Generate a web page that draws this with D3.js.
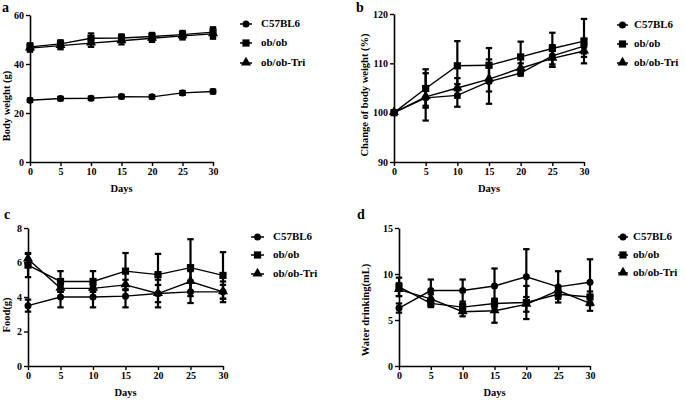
<!DOCTYPE html>
<html>
<head>
<meta charset="utf-8">
<script src="https://cdn.jsdelivr.net/npm/d3@7"></script>
<style>
  body { margin: 0; background: #fff; }
  svg { display: block; }
  text { font-family: "Liberation Serif", "DejaVu Serif", serif; font-weight: bold; fill: #000; }
</style>
</head>
<body>
<div id="chart"></div>
<script>
// ---- data ----
const days = [0, 5, 10, 15, 20, 25, 30];
const groups = ['C57BL6', 'ob/ob', 'ob/ob-Tri'];
const symbols = ['circle', 'square', 'triangle'];

// a: body weight (g)
const weightMean = [
  [25.2, 25.9, 26.0, 26.7, 26.6, 28.2, 28.8],
  [47.0, 48.2, 50.5, 50.6, 51.2, 52.0, 53.0],
  [46.5, 47.5, 48.5, 49.5, 50.5, 51.5, 52.3]
];
const weightSd = [
  [0.7, 0.7, 0.7, 0.7, 0.7, 0.8, 0.8],
  [1.5, 1.5, 2.0, 1.5, 1.5, 1.5, 2.0],
  [1.5, 1.5, 1.5, 1.5, 1.5, 1.5, 2.0]
];
// b: change of body weight (%)
const changeMean = [
  [100, 103.0, 103.5, 106.3, 108.0, 111.5, 113.5],
  [100, 104.9, 109.5, 109.6, 111.3, 113.0, 114.5],
  [100, 103.2, 105.0, 106.8, 109.0, 111.0, 112.5]
];
const changeSd = [
  [0, 1.6, 2.3, 4.5, 0.5, 2.2, 1.5],
  [0, 3.9, 5.0, 3.5, 3.1, 3.2, 4.5],
  [0, 4.8, 2.0, 2.5, 1.0, 1.7, 1.2]
];
// c: food (g)
const foodMean = [
  [3.5, 4.0, 4.0, 4.05, 4.2, 4.3, 4.3],
  [5.85, 4.9, 4.9, 5.5, 5.3, 5.7, 5.25],
  [6.2, 4.5, 4.5, 4.7, 4.2, 4.9, 4.3]
];
const foodSd = [
  [0.35, 0.6, 0.6, 0.65, 0.8, 0.65, 0.6],
  [0.7, 0.6, 0.6, 1.05, 1.2, 1.65, 1.35],
  [0.3, 0.2, 0.2, 0.3, 0.5, 0.6, 0.4]
];
// d: water drinking (mL)
const waterMean = [
  [6.3, 8.2, 8.2, 8.7, 9.7, 8.6, 9.1],
  [8.6, 6.8, 6.4, 6.8, 6.9, 7.8, 7.5],
  [8.3, 7.3, 5.9, 6.0, 6.7, 8.2, 6.8]
];
const waterSd = [
  [0.5, 1.2, 1.2, 1.9, 3.0, 1.7, 2.5],
  [1.0, 0.4, 0.4, 0.5, 1.8, 0.5, 0.6],
  [0.7, 0.5, 0.5, 1.3, 0.8, 0.5, 0.8]
];

const panels = [
  { letter: 'a', title: 'Body weight (g)', mean: weightMean, sd: weightSd,
    domain: [0, 60], ticks: [0, 20, 40, 60],
    x0: 30, x1: 213, yTop: 15, yBot: 162, titleX: 8, titleY: 106,
    letterPos: [2, 12], legend: { m0: 240, m1: 252, tx: 261, rows: [24, 43, 63] } },
  { letter: 'b', title: 'Change of body weight (%)', mean: changeMean, sd: changeSd,
    domain: [90, 120], ticks: [90, 100, 110, 120],
    x0: 394, x1: 584, yTop: 14, yBot: 162, titleX: 366, titleY: 95,
    letterPos: [356, 12], legend: { m0: 617, m1: 628, tx: 634, rows: [25, 44, 63] } },
  { letter: 'c', title: 'Food(g)', mean: foodMean, sd: foodSd,
    domain: [0, 8], ticks: [0, 2, 4, 6, 8],
    x0: 28, x1: 223, yTop: 228, yBot: 366, titleX: 8, titleY: 315,
    letterPos: [4, 219], legend: { m0: 251, m1: 264, tx: 273, rows: [237, 255, 274] } },
  { letter: 'd', title: 'Water drinking(mL)', mean: waterMean, sd: waterSd,
    domain: [0, 15], ticks: [0, 5, 10, 15],
    x0: 399, x1: 590, yTop: 228, yBot: 366, titleX: 367, titleY: 310,
    letterPos: [357, 219], legend: { m0: 618, m1: 628, tx: 633, rows: [237, 255, 273] } }
];

const svg = d3.select('#chart').append('svg')
  .attr('width', 685)
  .attr('height', 404);

function marker(sel, type, x, y) {
  if (type === 'circle') {
    sel.append('circle').attr('cx', x).attr('cy', y).attr('r', 3.5).attr('fill', '#000');
  } else if (type === 'square') {
    sel.append('rect').attr('x', x - 3.6).attr('y', y - 3.6)
      .attr('width', 7.2).attr('height', 7.2).attr('fill', '#000');
  } else {
    sel.append('path')
      .attr('d', d3.symbol().type(d3.symbolTriangle).size(44)())
      .attr('transform', `translate(${x},${y - 0.5})`)
      .attr('fill', '#000');
  }
}

panels.forEach(p => {
  const g = svg.append('g');
  const x = d3.scaleLinear().domain([0, 30]).range([p.x0, p.x1]);
  const y = d3.scaleLinear().domain(p.domain).range([p.yBot, p.yTop]);

  // axes
  const yAxis = g.append('g')
    .attr('transform', `translate(${p.x0},0)`)
    .call(d3.axisLeft(y).tickValues(p.ticks).tickSize(4).tickPadding(2).tickSizeOuter(0));
  const xAxis = g.append('g')
    .attr('transform', `translate(0,${p.yBot})`)
    .call(d3.axisBottom(x).tickValues(days).tickSize(4).tickPadding(2).tickSizeOuter(0));
  [yAxis, xAxis].forEach(ax => {
    ax.attr('font-family', null);
    ax.select('.domain').attr('stroke-width', 1.6).attr('stroke', '#000');
    ax.selectAll('.tick line').attr('stroke-width', 1.4).attr('stroke', '#000');
    ax.selectAll('.tick text')
      .attr('font-size', 10)
      .attr('fill', '#000');
  });

  // titles
  g.append('text')
    .attr('transform', `translate(${p.titleX},${p.titleY}) rotate(-90)`)
    .attr('text-anchor', 'middle')
    .attr('dominant-baseline', 'middle')
    .attr('font-size', 10.5)
    .text(p.title);
  g.append('text')
    .attr('x', (p.x0 + p.x1) / 2)
    .attr('y', p.yBot + 30)
    .attr('text-anchor', 'middle')
    .attr('font-size', 10.5)
    .text('Days');
  g.append('text')
    .attr('x', p.letterPos[0])
    .attr('y', p.letterPos[1])
    .attr('font-size', 14)
    .text(p.letter);

  const line = d3.line().x((d, i) => x(days[i])).y(d => y(d));

  p.mean.forEach((series, s) => {
    const sds = p.sd[s];
    // error bars
    series.forEach((v, i) => {
      if (!sds[i]) return;
      const cx = x(days[i]);
      const lo = y(v - sds[i]);
      const hi = y(v + sds[i]);
      g.append('line').attr('x1', cx).attr('x2', cx).attr('y1', lo).attr('y2', hi)
        .attr('stroke', '#000').attr('stroke-width', 2.2);
      [lo, hi].forEach(yy => {
        g.append('line').attr('x1', cx - 3.2).attr('x2', cx + 3.2).attr('y1', yy).attr('y2', yy)
          .attr('stroke', '#000').attr('stroke-width', 2.2);
      });
    });
    g.append('path')
      .datum(series)
      .attr('d', line)
      .attr('fill', 'none')
      .attr('stroke', '#000')
      .attr('stroke-width', 1.4);
    series.forEach((v, i) => marker(g, symbols[s], x(days[i]), y(v)));
  });

  // legend
  groups.forEach((name, s) => {
    const ry = p.legend.rows[s];
    g.append('line')
      .attr('x1', p.legend.m0).attr('x2', p.legend.m1)
      .attr('y1', ry).attr('y2', ry)
      .attr('stroke', '#000').attr('stroke-width', 1.5);
    marker(g, symbols[s], (p.legend.m0 + p.legend.m1) / 2, ry);
    g.append('text')
      .attr('x', p.legend.tx)
      .attr('y', ry)
      .attr('dominant-baseline', 'middle')
      .attr('font-size', 11)
      .text(name);
  });
});
</script>
</body>
</html>
